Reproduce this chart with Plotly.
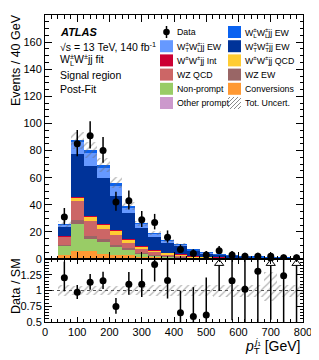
import math
import plotly.graph_objects as go

# ---------------- data ----------------
bin_centers = [60, 100, 140, 180, 220, 260, 300, 340, 380, 420, 460, 500, 540, 580, 620, 660, 700, 740, 780]
bin_width = 40
data_counts = [31, 85, 91, 80, 42, 43, 29, 27, 16, 7, 4, 3, 6, 3, 2, 2, 2, 1, 1]

other_prompt = [0.8, 1.0, 1.0, 0.9, 0.8, 0.6, 0.5, 0.4, 0.3, 0.2, 0.1, 0.1, 0.05, 0.05, 0.03, 0.02, 0.02, 0.01, 0.01]
conversions  = [2.0, 5.0, 5.0, 3.0, 2.5, 2.0, 1.2, 1.0, 0.7, 0.5, 0.3, 0.25, 0.2, 0.15, 0.1, 0.08, 0.06, 0.04, 0.03]
non_prompt   = [7.0, 20.0, 9.0, 9.0, 6.0, 4.5, 2.5, 1.5, 1.0, 0.7, 0.4, 0.3, 0.2, 0.15, 0.1, 0.08, 0.07, 0.04, 0.03]
wz_ew        = [0.5, 2.5, 2.0, 1.5, 1.2, 1.0, 0.5, 0.4, 0.3, 0.2, 0.1, 0.1, 0.05, 0.05, 0.03, 0.02, 0.02, 0.01, 0.01]
wz_qcd       = [6.0, 14.0, 11.0, 8.0, 7.0, 3.5, 2.5, 1.5, 1.0, 0.8, 0.5, 0.4, 0.3, 0.2, 0.15, 0.12, 0.1, 0.06, 0.04]
ww_qcd       = [0.4, 2.5, 3.0, 3.0, 3.5, 3.0, 2.0, 1.5, 1.2, 0.9, 0.6, 0.4, 0.3, 0.2, 0.15, 0.12, 0.1, 0.06, 0.05]
ww_int       = [0.2, 0.5, 0.5, 0.5, 0.7, 0.5, 0.3, 0.3, 0.2, 0.2, 0.1, 0.1, 0.05, 0.05, 0.04, 0.03, 0.02, 0.02, 0.01]
wtwt_ew      = [7.0, 32.0, 37.0, 33.5, 25.0, 18.5, 13.5, 10.0, 7.5, 6.2, 4.0, 2.7, 2.05, 1.45, 1.15, 0.88, 0.78, 0.47, 0.34]
wtwl_ew      = [1.3, 8.5, 10.0, 8.0, 7.0, 4.5, 2.9, 2.2, 1.3, 0.9, 0.5, 0.45, 0.35, 0.2, 0.15, 0.12, 0.1, 0.06, 0.05]
wlwl_ew      = [0.6, 1.5, 2.0, 1.9, 2.5, 1.0, 0.5, 0.3, 0.3, 0.2, 0.2, 0.1, 0.1, 0.1, 0.06, 0.06, 0.05, 0.04, 0.03]

unc_up   = [0.08, 0.07, 0.07, 0.07, 0.07, 0.07, 0.07, 0.08, 0.08, 0.08, 0.08, 0.08, 0.08, 0.08, 0.08, 0.08, 0.29, 0.08, 0.08]
unc_down = [0.08, 0.07, 0.07, 0.07, 0.07, 0.07, 0.07, 0.08, 0.08, 0.09, 0.09, 0.09, 0.10, 0.10, 0.10, 0.10, 0.17, 0.10, 0.10]

x_tick_vals = [0, 100, 200, 300, 400, 500, 600, 700, 800]
y_tick_vals = [0, 20, 40, 60, 80, 100, 120, 140, 160]
ratio_tick_vals = [0.5, 0.75, 1, 1.25]
ratio_tick_text = ["0.5", "0.75", "1", "1.25"]

FONT = "Liberation Sans, Arial, Helvetica, sans-serif"


def stk(a, b, w=3.5):
    # stacked subscript/superscript
    return f"<sub><span style='letter-spacing:-{w}px'>{a}</span></sub><sup>{b}</sup>"


processes = [
    ("Other prompt", other_prompt, "#cc99cc"),
    ("Conversions", conversions, "#ff9933"),
    ("Non-prompt", non_prompt, "#99cc66"),
    ("WZ EW", wz_ew, "#996666"),
    ("WZ QCD", wz_qcd, "#cc6666"),
    ("W" + "<sup>±</sup>W<sup>±</sup>jj QCD", ww_qcd, "#ffcc33"),
    ("W<sup>±</sup>W<sup>±</sup>jj Int", ww_int, "#cc0033"),
    ("W" + stk("T", "±") + "W" + stk("T", "±") + "jj EW", wtwt_ew, "#003399"),
    ("W" + stk("T", "±") + "W" + stk("L", "±") + "jj EW", wtwl_ew, "#6699ff"),
    ("W" + stk("L", "±") + "W" + stk("L", "±") + "jj EW", wlwl_ew, "#0a62f0"),
]


# ---------------- derived ----------------
def pois_cdf(k, mu):
    if k < 0:
        return 0.0
    s, t = 0.0, math.exp(-mu)
    for i in range(k + 1):
        if i > 0:
            t *= mu / i
        s += t
    return s


def garwood(n, cl=0.6827):
    a = (1 - cl) / 2
    lo_mu, hi_mu = n, n + 20 + 10 * math.sqrt(n + 1)
    for _ in range(100):
        m = 0.5 * (lo_mu + hi_mu)
        if pois_cdf(n, m) > a:
            lo_mu = m
        else:
            hi_mu = m
    up = 0.5 * (lo_mu + hi_mu)
    if n == 0:
        return 0.0, up
    lo_mu, hi_mu = 0.0, n
    for _ in range(100):
        m = 0.5 * (lo_mu + hi_mu)
        if pois_cdf(n - 1, m) > 1 - a:
            lo_mu = m
        else:
            hi_mu = m
    return 0.5 * (lo_mu + hi_mu), up


pred = [sum(p[1][i] for p in processes) for i in range(len(bin_centers))]
err_lo, err_hi = [], []
for n in data_counts:
    lo, up = garwood(n)
    err_lo.append(n - lo)
    err_hi.append(up - n)
ratio = [d / p for d, p in zip(data_counts, pred)]
ratio_lo = [e / p for e, p in zip(err_lo, pred)]
ratio_hi = [e / p for e, p in zip(err_hi, pred)]

# ---------------- figure geometry ----------------
# page body has an 8px default margin: figure placed at (8, 8) in the window
OFF = 8
W, H = 319 - OFF, 360 - OFF
PL, PR, PT, PB = 45, 303, 15, 322          # plot area in window pixels
L, R, T, B = PL - OFF, (W + OFF) - PR, PT - OFF, (H + OFF) - PB
PW, PH = PR - PL, PB - PT


def fx(px):
    return (px - PL) / PW


def fy(py):
    return (PB - py) / PH


split = fy(259)

fig = go.Figure()

for name, vals, col in processes:
    fig.add_trace(go.Bar(
        x=bin_centers, y=vals, width=bin_width, name=name,
        marker=dict(color=col, line=dict(width=0)),
        xaxis="x", yaxis="y", showlegend=False, hoverinfo="skip",
    ))

# total uncertainty band (main)
fig.add_trace(go.Bar(
    x=bin_centers,
    base=[p * (1 - d) for p, d in zip(pred, unc_down)],
    y=[p * (u + d) for p, u, d in zip(pred, unc_up, unc_down)],
    width=bin_width,
    marker=dict(color="rgba(0,0,0,0)", line=dict(width=0),
                pattern=dict(shape="/", fgcolor="#6a6a6a", bgcolor="rgba(0,0,0,0)", size=5, solidity=0.25)),
    xaxis="x", yaxis="y", showlegend=False, hoverinfo="skip",
))

# data (main)
fig.add_trace(go.Scatter(
    x=bin_centers, y=data_counts, mode="markers",
    marker=dict(color="black", size=7),
    error_y=dict(type="data", symmetric=False, array=err_hi, arrayminus=err_lo,
                 width=0, thickness=1.5, color="black"),
    xaxis="x", yaxis="y", showlegend=False, hoverinfo="skip",
))

# ratio uncertainty band
fig.add_trace(go.Bar(
    x=bin_centers,
    base=[1 - d for d in unc_down],
    y=[u + d for u, d in zip(unc_up, unc_down)],
    width=bin_width,
    marker=dict(color="rgba(0,0,0,0)", line=dict(width=0),
                pattern=dict(shape="/", fgcolor="#6a6a6a", bgcolor="rgba(0,0,0,0)", size=5, solidity=0.25)),
    xaxis="x2", yaxis="y2", showlegend=False, hoverinfo="skip",
))

# ratio points
fig.add_trace(go.Scatter(
    x=bin_centers, y=ratio, mode="markers",
    marker=dict(color="black", size=7),
    error_y=dict(type="data", symmetric=False, array=ratio_hi, arrayminus=ratio_lo,
                 width=0, thickness=1.5, color="black"),
    xaxis="x2", yaxis="y2", showlegend=False, hoverinfo="skip",
))

# arrows for ratios above the range
over_x = [x for x, r in zip(bin_centers, ratio) if r > 1.5]
fig.add_trace(go.Scatter(
    x=over_x, y=[1.43] * len(over_x), mode="markers",
    marker=dict(symbol="triangle-up", color="white", size=8, line=dict(color="black", width=1)),
    xaxis="x2", yaxis="y2", showlegend=False, hoverinfo="skip",
))

axis_common = dict(
    showline=True, linecolor="black", linewidth=1, mirror="ticks",
    ticks="inside", tickcolor="black", showgrid=False, zeroline=False,
    tickfont=dict(family=FONT, size=11, color="black"),
)

fig.update_layout(
    width=W, height=H,
    margin=dict(l=L, r=R, t=T, b=B, autoexpand=False),
    paper_bgcolor="white", plot_bgcolor="white",
    barmode="stack", bargap=0,
    font=dict(family=FONT, color="black"),
    xaxis=dict(domain=[0, 1], range=[0, 800], anchor="y", tickvals=x_tick_vals,
               showticklabels=False, ticklen=7,
               minor=dict(dtick=20, tick0=0, ticks="inside", ticklen=3.5, tickcolor="black"),
               **axis_common),
    yaxis=dict(domain=[split, 1], range=[0, 180], anchor="x", tickvals=y_tick_vals,
               ticklen=7,
               minor=dict(dtick=5, tick0=0, ticks="inside", ticklen=3.5, tickcolor="black"),
               **axis_common),
    xaxis2=dict(domain=[0, 1], range=[0, 800], anchor="y2", matches="x", tickvals=x_tick_vals,
                ticklen=5,
                minor=dict(dtick=20, tick0=0, ticks="inside", ticklen=3, tickcolor="black"),
                **axis_common),
    yaxis2=dict(domain=[0, split], range=[0.5, 1.5], anchor="x2",
                tickvals=ratio_tick_vals, ticktext=ratio_tick_text, ticklen=7,
                minor=dict(dtick=0.05, tick0=0.5, ticks="inside", ticklen=3.5, tickcolor="black"),
                **axis_common),
)

shapes = [dict(type="line", xref="x2", yref="y2", x0=0, x1=800, y0=1, y1=1,
               line=dict(color="#555555", width=1, dash="dot"), layer="below")]
annotations = []

# axis titles
annotations.append(dict(text="Events / 40 GeV", xref="paper", yref="paper", x=fx(16), y=fy(12),
                        xanchor="center", yanchor="top", textangle=-90, showarrow=False,
                        font=dict(family=FONT, size=12.5)))
annotations.append(dict(text="Data / SM", xref="paper", yref="paper", x=fx(16), y=fy(286),
                        xanchor="center", yanchor="middle", textangle=-90, showarrow=False,
                        font=dict(family=FONT, size=12.5)))
annotations.append(dict(text="<i>p</i>" + stk("T", "<i>j</i>₁", 4.5) + " [GeV]", xref="paper", yref="paper",
                        x=fx(302), y=fy(346), xanchor="right", yanchor="middle", showarrow=False,
                        font=dict(family=FONT, size=14)))

# label block
info_lines = [
    "<b><i>ATLAS</i></b>",
    "√s = 13 TeV, 140 fb<sup>-1</sup>",
    "W" + stk("L", "±", 4.0) + "W<sup>±</sup>jj fit",
    "Signal region",
    "Post-Fit",
]
row0, step = 32.0, 14.2
for i, t in enumerate(info_lines):
    annotations.append(dict(text=t, xref="paper", yref="paper", x=fx(58), y=fy(row0 + step * i),
                            xanchor="left", yanchor="middle", showarrow=False,
                            font=dict(family=FONT, size=11 if i == 0 else 10.5)))

# legend
col1 = [("Data", None), (processes[8][0], processes[8][2]), (processes[6][0], processes[6][2]),
        (processes[4][0], processes[4][2]), (processes[2][0], processes[2][2]), (processes[0][0], processes[0][2])]
col2 = [(processes[9][0], processes[9][2]), (processes[7][0], processes[7][2]), (processes[5][0], processes[5][2]),
        (processes[3][0], processes[3][2]), (processes[1][0], processes[1][2]), ("Tot. Uncert.", "hatch")]


def clip(xa, ya, xb, yb, x0, x1, y0, y1):
    tmin, tmax = 0.0, 1.0
    dx, dy = xb - xa, yb - ya
    for p, q in ((-dx, xa - x0), (dx, x1 - xa), (-dy, ya - y0), (dy, y1 - ya)):
        if p == 0:
            if q < 0:
                return None
            continue
        r = q / p
        if p < 0:
            tmin = max(tmin, r)
        else:
            tmax = min(tmax, r)
    if tmin > tmax:
        return None
    return (xa + tmin * dx, ya + tmin * dy, xa + tmax * dx, ya + tmax * dy)


for colx, entries in ((160, col1), (228, col2)):
    for i, (lab, col) in enumerate(entries):
        cy = row0 + step * i
        x0, x1, y0, y1 = colx, colx + 13, cy - 6, cy + 6
        if col is None:
            xm = (x0 + x1) / 2
            shapes.append(dict(type="line", xref="paper", yref="paper", x0=fx(xm), x1=fx(xm),
                               y0=fy(cy - 6), y1=fy(cy + 6), line=dict(color="black", width=1.5)))
            shapes.append(dict(type="circle", xref="paper", yref="paper", x0=fx(xm - 3.3), x1=fx(xm + 3.3),
                               y0=fy(cy - 3.3), y1=fy(cy + 3.3), fillcolor="black", line=dict(width=0)))
        elif col == "hatch":
            for c in range(-10, 14, 4):
                seg = clip(x0, y1 + c, x0 + 13, y1 + c - 13, x0, x1, y0, y1)
                if seg:
                    shapes.append(dict(type="line", xref="paper", yref="paper",
                                       x0=fx(seg[0]), y0=fy(seg[1]), x1=fx(seg[2]), y1=fy(seg[3]),
                                       line=dict(color="#8a8a8a", width=1)))
        else:
            shapes.append(dict(type="rect", xref="paper", yref="paper", x0=fx(x0), x1=fx(x1),
                               y0=fy(y1), y1=fy(y0), fillcolor=col, line=dict(width=0)))
        annotations.append(dict(text=lab, xref="paper", yref="paper", x=fx(colx + 15), y=fy(cy),
                                xanchor="left", yanchor="middle", showarrow=False,
                                font=dict(family=FONT, size=8.8)))

fig.update_layout(shapes=shapes, annotations=annotations)

fig.write_html("out.html")
